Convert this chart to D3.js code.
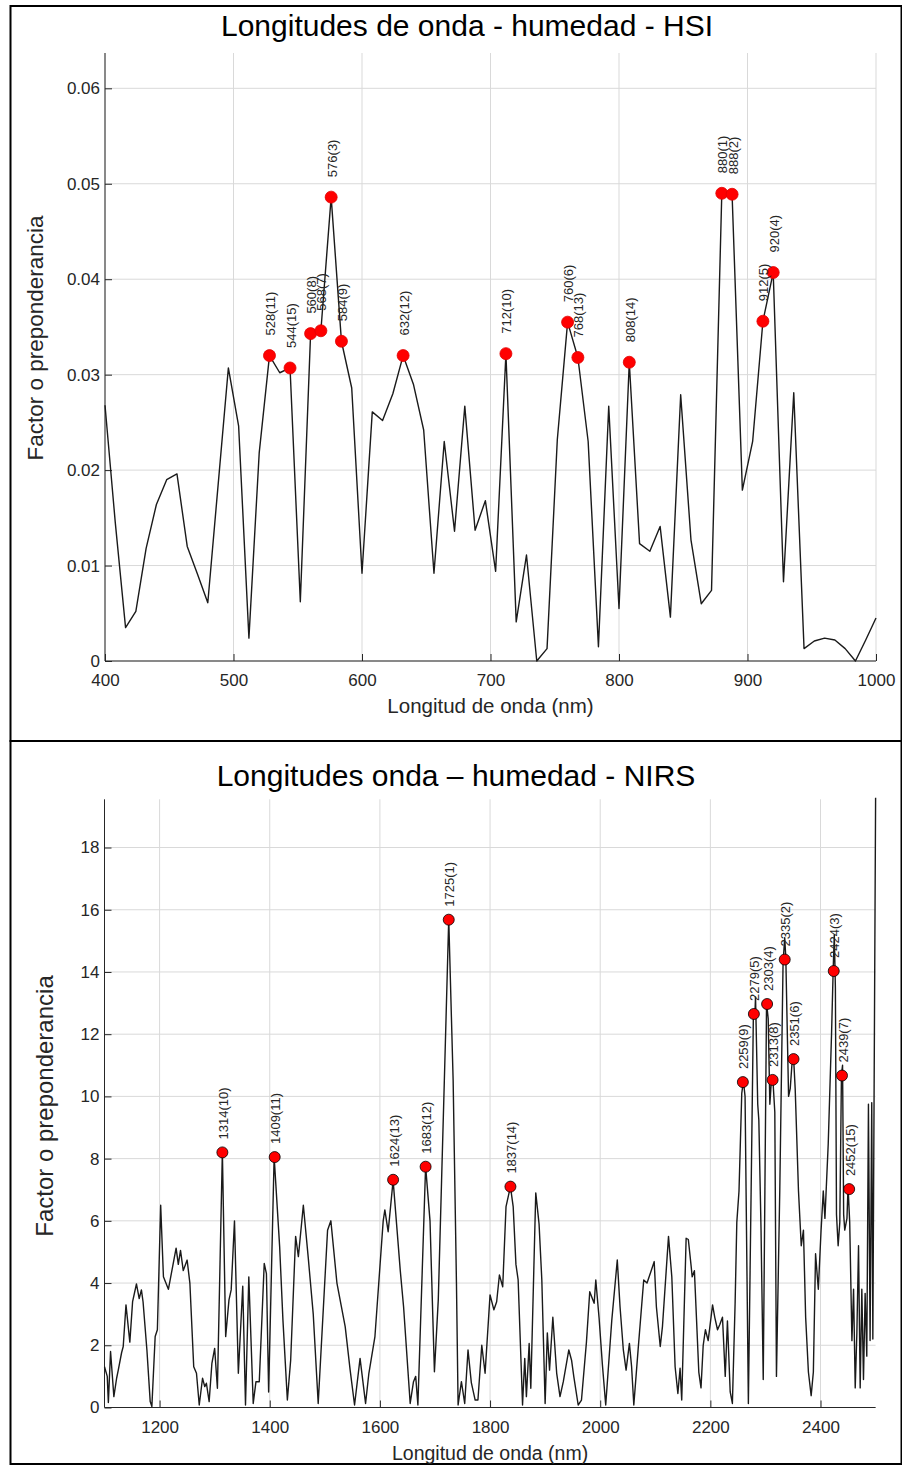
<!DOCTYPE html>
<html>
<head>
<meta charset="utf-8">
<script src="https://cdn.jsdelivr.net/npm/d3@7"></script>
<style>
  body { margin: 0; background: #fff; }
  svg { display: block; font-family: "Liberation Sans", Arial, Helvetica, sans-serif; }
  .tick text { fill: #262626; font-size: 17px; }
  .domain { stroke: #262626; }
  .tick line { stroke: #262626; }
</style>
</head>
<body>
<div class="chart"></div>
<script>
// ---------- HSI data (every 8 nm) ----------
var hsiWavelengths = [400, 408, 416, 424, 432, 440, 448, 456, 464, 472, 480, 488, 496, 504, 512, 520,
  528, 536, 544, 552, 560, 568, 576, 584, 592, 600, 608, 616, 624, 632, 640, 648, 656, 664, 672, 680,
  688, 696, 704, 712, 720, 728, 736, 744, 752, 760, 768, 776, 784, 792, 800, 808, 816, 824, 832, 840,
  848, 856, 864, 872, 880, 888, 896, 904, 912, 920, 928, 936, 944, 952, 960, 968, 976, 984, 992, 1000];
var hsiValues = [0.0268, 0.0145, 0.0035, 0.0052, 0.0118, 0.0164, 0.0190, 0.0196, 0.0120, 0.0091, 0.0061, 0.0184, 0.0307, 0.0246, 0.0024, 0.0218,
  0.0320, 0.0302, 0.0307, 0.0062, 0.0343, 0.0346, 0.0486, 0.0335, 0.0286, 0.0092, 0.0261, 0.0252, 0.0280, 0.0320, 0.0290, 0.0242, 0.0092, 0.0230, 0.0136, 0.0267,
  0.0137, 0.0168, 0.0094, 0.0322, 0.0041, 0.0111, 0.0000, 0.0013, 0.0232, 0.0355, 0.0318, 0.0230, 0.0015, 0.0267, 0.0055, 0.0313, 0.0123, 0.0115, 0.0141, 0.0046,
  0.0279, 0.0127, 0.0060, 0.0074, 0.0490, 0.0489, 0.0179, 0.0230, 0.0356, 0.0407, 0.0083, 0.0281, 0.0013, 0.0021, 0.0024, 0.0022, 0.0013, 0.0000, 0.0022, 0.0045];

// selected wavelengths (rank in brackets)
var hsiPeakWl = [528, 544, 560, 568, 576, 584, 632, 712, 760, 768, 808, 880, 888, 912, 920];
var hsiPeakRank = [11, 15, 8, 7, 3, 9, 12, 10, 6, 13, 14, 1, 2, 5, 4];
var hsiPeakVal = [0.0320, 0.0307, 0.0343, 0.0346, 0.0486, 0.0335, 0.0320, 0.0322, 0.0355, 0.0318, 0.0313, 0.0490, 0.0489, 0.0356, 0.0407];

var hsiXTicks = [400, 500, 600, 700, 800, 900, 1000];
var hsiYTicks = [0, 0.01, 0.02, 0.03, 0.04, 0.05, 0.06];

// ---------- NIRS data ----------
var nirsWavelengths = [1100, 1105, 1107, 1111, 1117, 1122, 1125, 1131, 1134, 1139, 1146, 1151, 1158, 1163, 1167, 1170,
  1177, 1183, 1186, 1192, 1196, 1202, 1207, 1216, 1222, 1230, 1234, 1238, 1243, 1250, 1255, 1262, 1267, 1272,
  1278, 1282, 1285, 1290, 1295, 1300, 1305, 1314, 1320, 1326, 1330, 1336, 1343, 1351, 1356, 1362, 1370, 1375,
  1381, 1390, 1394, 1398, 1408, 1418, 1424, 1432, 1438, 1447, 1452, 1461, 1470, 1479, 1488, 1505, 1511, 1522,
  1537, 1546, 1554, 1564, 1574, 1580, 1591, 1606, 1609, 1615, 1624, 1637, 1643, 1655, 1661, 1665, 1669, 1683,
  1691, 1699, 1706, 1712, 1717, 1725, 1733, 1739, 1742, 1748, 1754, 1760, 1766, 1773, 1778, 1785, 1791, 1800,
  1807, 1812, 1817, 1823, 1829, 1837, 1842, 1847, 1851, 1859, 1863, 1866, 1871, 1874, 1883, 1889, 1894, 1900,
  1904, 1908, 1914, 1921, 1927, 1933, 1943, 1948, 1952, 1960, 1966, 1975, 1981, 1989, 1992, 1998, 2004, 2010,
  2021, 2031, 2036, 2042, 2047, 2053, 2057, 2061, 2069, 2079, 2085, 2093, 2098, 2102, 2109, 2113, 2124, 2130,
  2136, 2141, 2145, 2148, 2156, 2160, 2165, 2167, 2171, 2175, 2179, 2183, 2187, 2191, 2196, 2204, 2208, 2213,
  2217, 2222, 2227, 2231, 2236, 2240, 2245, 2248, 2252, 2257, 2260, 2263, 2269, 2274, 2278, 2281, 2282, 2286,
  2288, 2292, 2296, 2299, 2302, 2305, 2308, 2311, 2314, 2317, 2320, 2326, 2332, 2335, 2337, 2342, 2345, 2348,
  2351, 2354, 2360, 2365, 2369, 2373, 2378, 2383, 2387, 2391, 2396, 2401, 2405, 2408, 2414, 2420, 2423, 2425,
  2427, 2429, 2432, 2435, 2438, 2440, 2442, 2444, 2448, 2450, 2453, 2457, 2460, 2463, 2466, 2469, 2472, 2475,
  2478, 2481, 2484, 2487, 2490, 2493, 2495, 2500];
var nirsValues = [1.31, 1.0, 0.16, 1.8, 0.35, 0.94, 1.2, 1.76, 1.96, 3.3, 2.1, 3.4, 3.97, 3.5, 3.78, 3.4,
  1.85, 0.19, 0.03, 2.28, 2.5, 6.5, 4.2, 3.8, 4.37, 5.12, 4.6, 5.05, 4.4, 4.74, 4.0, 1.31, 1.1, 0.08,
  0.94, 0.67, 0.78, 0.19, 1.42, 1.9, 0.62, 8.22, 2.28, 3.46, 3.78, 6.0, 1.1, 3.9, 0.08, 4.2, 0.13, 0.83,
  0.83, 4.63, 4.3, 0.5, 8.06, 5.17, 2.8, 0.24, 1.52, 5.5, 4.85, 6.5, 4.8, 3.0, 0.13, 5.7, 6.0, 4.0,
  2.6, 1.2, 0.08, 1.58, 0.13, 1.1, 2.28, 6.0, 6.35, 5.65, 7.3, 4.4, 3.24, 0.13, 0.83, 1.0, 0.08, 7.75,
  6.0, 1.15, 3.46, 7.3, 10.5, 15.7, 10.5, 4.0, 0.08, 0.83, 0.13, 1.85, 0.8, 0.24, 0.24, 2.0, 1.1, 3.62,
  3.14, 3.4, 4.26, 3.88, 6.46, 7.1, 6.46, 4.6, 4.1, 0.08, 1.58, 0.35, 2.06, 0.62, 6.9, 5.9, 4.1, 0.13,
  2.4, 1.2, 2.9, 1.1, 0.35, 0.83, 1.85, 1.52, 1.0, 0.08, 0.24, 2.1, 3.72, 3.35, 4.1, 2.87, 1.37, 0.08,
  2.8, 4.74, 3.24, 1.85, 1.2, 2.06, 1.31, 0.08, 1.9, 4.1, 4.0, 4.42, 4.69, 3.24, 1.96, 2.6, 5.5, 4.2,
  1.31, 0.45, 1.26, 0.24, 5.44, 5.4, 4.56, 4.2, 4.4, 2.78, 1.14, 0.63, 2.0, 2.5, 2.15, 3.3, 2.9, 2.5,
  2.66, 2.9, 1.0, 2.78, 0.5, 0.13, 3.4, 5.95, 6.96, 10.1, 10.5, 10.0, 0.13, 6.96, 12.5, 12.7, 13.2, 9.75,
  9.24, 5.7, 0.9, 6.96, 13.0, 12.5, 9.75, 10.57, 10.4, 9.5, 1.0, 6.96, 14.3, 15.1, 14.45, 10.0, 10.25, 11.0,
  11.27, 10.25, 6.96, 5.2, 5.7, 2.9, 1.14, 0.38, 1.14, 4.94, 3.8, 5.7, 6.96, 6.08, 8.48, 12.0, 14.08, 15.2,
  13.5, 6.2, 5.2, 5.95, 10.7, 11.0, 6.2, 5.7, 6.08, 7.1, 5.95, 2.15, 3.8, 0.63, 2.4, 5.2, 0.63, 3.8,
  0.9, 3.67, 1.65, 9.75, 2.15, 9.8, 2.2, 19.6];

var nirsPeakWl = [1314, 1409, 1624, 1683, 1725, 1837, 2259, 2279, 2303, 2313, 2335, 2351, 2424, 2439, 2452];
var nirsPeakRank = [10, 11, 13, 12, 1, 14, 9, 5, 4, 8, 2, 6, 3, 7, 15];
var nirsPeakVal = [8.2, 8.05, 7.32, 7.74, 15.68, 7.1, 10.46, 12.65, 12.97, 10.53, 14.4, 11.2, 14.03, 10.67, 7.02];

var nirsXTicks = [1200, 1400, 1600, 1800, 2000, 2200, 2400];
var nirsYTicks = [0, 2, 4, 6, 8, 10, 12, 14, 16, 18];

//==================================
// SVG
//==================================
var svg = d3.select(".chart").append("svg")
  .attr("width", 902)
  .attr("height", 1465);

// panel frames
svg.append("rect").attr("x", 10.5).attr("y", 6).attr("width", 891).attr("height", 735)
  .attr("fill", "none").attr("stroke", "#000").attr("stroke-width", 2);
svg.append("rect").attr("x", 10.5).attr("y", 741).attr("width", 891).attr("height", 723)
  .attr("fill", "none").attr("stroke", "#000").attr("stroke-width", 2);

// draws one MATLAB-like panel
function drawPanel(cfg) {
  var x = d3.scaleLinear().domain(cfg.xDomain).range([cfg.left, cfg.right]);
  var y = d3.scaleLinear().domain(cfg.yDomain).range([cfg.bottom, cfg.top]);
  var g = svg.append("g");

  // grid
  g.selectAll(".xgrid").data(cfg.xTicks).enter().append("line")
    .attr("x1", function(d) { return x(d); }).attr("x2", function(d) { return x(d); })
    .attr("y1", cfg.top).attr("y2", cfg.bottom)
    .attr("stroke", "#d9d9d9").attr("stroke-width", 1);
  g.selectAll(".ygrid").data(cfg.yTicks).enter().append("line")
    .attr("x1", cfg.left).attr("x2", cfg.right)
    .attr("y1", function(d) { return y(d); }).attr("y2", function(d) { return y(d); })
    .attr("stroke", "#d9d9d9").attr("stroke-width", 1);

  // axes (ticks pointing inward)
  g.append("g")
    .attr("transform", "translate(0," + cfg.bottom + ")")
    .call(d3.axisBottom(x).tickValues(cfg.xTicks).tickSizeInner(-7).tickSizeOuter(0).tickPadding(13)
      .tickFormat(d3.format("d")))
    .call(function(s) { s.select(".domain").attr("d", "M" + cfg.left + ",0H" + cfg.right); });
  g.append("g")
    .attr("transform", "translate(" + cfg.left + ",0)")
    .call(d3.axisLeft(y).tickValues(cfg.yTicks).tickSizeInner(-7).tickSizeOuter(0).tickPadding(5)
      .tickFormat(cfg.yFormat))
    .call(function(s) { s.select(".domain").attr("d", "M0," + cfg.top + "V" + cfg.bottom); });

  // curve
  var line = d3.line()
    .x(function(d) { return x(d[0]); })
    .y(function(d) { return y(d[1]); });
  g.append("path")
    .datum(d3.zip(cfg.wl, cfg.vals))
    .attr("d", line)
    .attr("fill", "none")
    .attr("stroke", "#1a1a1a")
    .attr("stroke-width", 1.4)
    .attr("stroke-linejoin", "round");

  // selected points
  var peaks = d3.zip(cfg.peakWl, cfg.peakVal, cfg.peakRank);
  g.selectAll(".pt").data(peaks).enter().append("circle")
    .attr("cx", function(d) { return x(d[0]); })
    .attr("cy", function(d) { return y(d[1]); })
    .attr("r", cfg.r)
    .attr("fill", "#ff0000")
    .attr("stroke", cfg.ptStroke)
    .attr("stroke-width", 0.8);
  g.selectAll(".lbl").data(peaks).enter().append("text")
    .attr("transform", function(d) {
      return "translate(" + (x(d[0]) + 1) + "," + (y(d[1]) - cfg.lblGap) + ") rotate(-90)";
    })
    .attr("dy", "0.35em")
    .attr("font-size", "13px")
    .attr("fill", "#262626")
    .text(function(d) { return d[0] + "(" + d[2] + ")"; });

  // titles
  svg.append("text")
    .attr("x", cfg.titleX).attr("y", cfg.titleY)
    .attr("text-anchor", "middle").attr("font-size", "30px").attr("fill", "#000")
    .text(cfg.title);
  svg.append("text")
    .attr("x", (cfg.left + cfg.right) / 2).attr("y", cfg.bottom + 52)
    .attr("text-anchor", "middle").attr("font-size", cfg.xLabelSize).attr("fill", "#262626")
    .text("Longitud de onda (nm)");
  svg.append("text")
    .attr("transform", "translate(" + cfg.yLabelX + "," + cfg.yLabelY + ") rotate(-90)")
    .attr("text-anchor", "middle").attr("font-size", cfg.yLabelSize).attr("fill", "#262626")
    .text("Factor o preponderancia");
}

drawPanel({
  xDomain: [400, 1000], yDomain: [0, 0.0637],
  left: 105, right: 876, top: 53, bottom: 661,
  xTicks: hsiXTicks, yTicks: hsiYTicks,
  yFormat: function(d) { return d === 0 ? "0" : d3.format(".2f")(d); },
  wl: hsiWavelengths, vals: hsiValues,
  peakWl: hsiPeakWl, peakVal: hsiPeakVal, peakRank: hsiPeakRank,
  r: 6, ptStroke: "#e00000", lblGap: 20,
  title: "Longitudes de onda - humedad - HSI", titleX: 467, titleY: 36,
  xLabelSize: "20.5px", yLabelSize: "22.5px", yLabelX: 43, yLabelY: 338
});

drawPanel({
  xDomain: [1100, 2500], yDomain: [0, 19.55],
  left: 104.5, right: 875.6, top: 799.3, bottom: 1407.5,
  xTicks: nirsXTicks, yTicks: nirsYTicks,
  yFormat: d3.format("d"),
  wl: nirsWavelengths, vals: nirsValues,
  peakWl: nirsPeakWl, peakVal: nirsPeakVal, peakRank: nirsPeakRank,
  r: 5.5, ptStroke: "#000", lblGap: 13,
  title: "Longitudes onda \u2013 humedad - NIRS", titleX: 456, titleY: 786,
  xLabelSize: "19.5px", yLabelSize: "24px", yLabelX: 53, yLabelY: 1106
});
</script>
</body>
</html>
